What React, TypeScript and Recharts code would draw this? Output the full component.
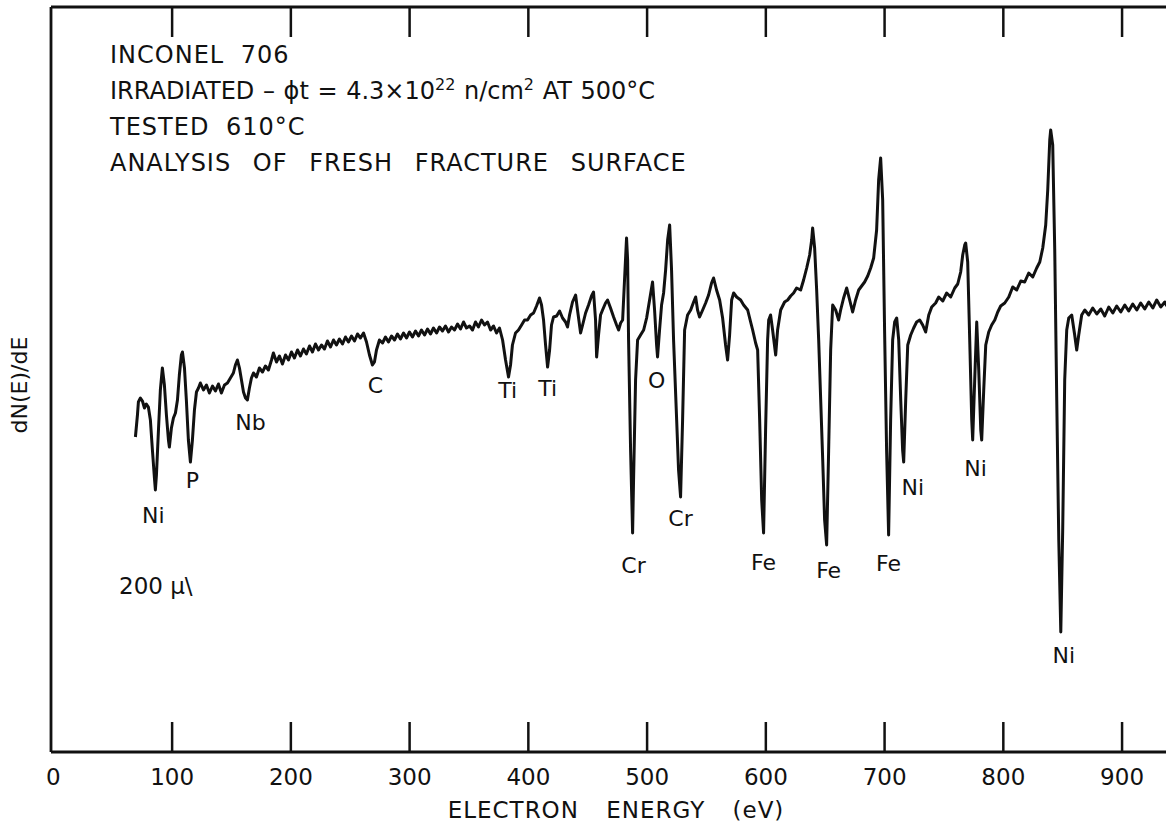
import React from "react";
import { LineChart, Line, XAxis, YAxis, ReferenceDot, Label } from "recharts";

// electron energy (eV) and dN(E)/dE signal (arbitrary units)
const energyEv = [
  69.1, 70.8, 71.6, 73.3, 75.0, 76.7, 78.3, 80.0, 81.7, 83.4, 85.1, 85.9, 86.8, 88.5, 90.1, 91.8, 93.5, 95.2,
  96.9, 97.7, 99.4, 101.1, 102.8, 104.5, 106.1, 107.8, 108.7, 110.4, 112.0, 113.7, 115.4, 117.1, 118.8, 120.5,
  122.2, 123.8,
  126.4, 128.9, 131.4, 134.0, 136.5, 139.0, 141.5, 144.1, 146.6, 149.1, 151.6, 153.3, 155.0, 156.7, 158.4,
  160.1, 161.8, 163.4, 165.1, 166.8, 168.5, 171.0, 173.5, 176.1, 178.6, 181.1, 183.7, 185.3, 187.9, 190.4,
  192.9, 195.5, 198.0, 200.5, 203.0, 205.6, 208.1, 210.6, 213.1, 215.7, 218.2, 220.7, 223.3, 225.8, 228.3,
  230.8, 233.4, 235.9, 238.4, 240.9, 243.5, 246.0, 248.5, 251.1, 253.6, 256.1, 258.6, 261.2, 263.7, 266.2,
  268.7, 270.4, 272.1, 274.6, 277.2,
  279.7, 282.2, 284.8, 287.3, 289.8, 292.3, 294.9, 297.4, 299.9, 302.4, 305.0, 307.5, 310.0, 312.6, 315.1,
  317.6, 320.1, 322.7, 325.2, 327.7, 330.2, 332.8, 335.3, 337.8, 340.4, 342.9, 345.4, 347.9, 350.5, 353.0,
  355.5, 358.0, 360.6, 363.1, 365.6, 368.2, 370.7, 373.2, 375.7, 378.3, 380.8, 383.3, 385.0, 386.6, 389.2,
  391.7, 394.3, 396.8, 399.3, 401.9, 404.4, 406.9, 409.4, 411.1, 412.8, 414.5, 416.2, 417.9, 419.5, 421.2,
  423.8, 426.3, 428.8, 431.3, 433.0, 434.7, 437.2, 439.8, 441.4, 444.0, 445.7, 448.2, 450.7, 453.2, 454.9,
  456.6, 457.5, 459.1, 460.8, 462.5, 465.0, 466.7, 469.2, 471.8, 474.3, 476.0, 477.7, 479.4, 481.0, 482.7,
  483.6, 484.4, 486.1, 487.8, 488.6, 490.3, 492.0, 494.5, 497.1, 499.6, 502.1, 504.6, 506.3, 508.0, 508.8,
  510.5, 512.2, 513.9, 515.6, 517.3, 519.0, 520.6, 522.3, 524.9, 526.5, 528.2, 529.9, 531.6, 534.1, 536.7,
  539.2, 540.9, 542.5, 544.2, 546.8, 549.3, 551.8, 554.3, 556.0, 558.5, 561.1, 563.6, 566.1, 567.8, 569.5,
  571.2, 572.9, 575.4, 578.8, 581.3, 584.7, 587.2, 588.9, 591.4, 593.1, 594.8, 596.5, 598.1, 599.8, 601.5,
  602.4, 604.0, 605.7, 608.3, 609.9, 612.5, 615.8, 618.4, 620.9, 623.4, 625.9, 629.3, 631.8, 634.4, 636.9,
  638.6, 639.4, 641.1, 642.8, 644.5, 646.2, 647.9, 649.5, 651.2, 652.9, 654.6, 656.3, 658.8, 661.3, 663.0,
  665.5, 668.1, 670.6, 673.1, 675.6, 678.2, 680.7, 683.2, 685.8, 688.3, 690.8, 693.3, 695.0, 696.7, 698.4,
  700.0, 701.7, 703.4, 705.1, 706.8, 708.5, 710.2, 711.9, 713.6, 715.2, 716.1, 717.8, 719.5, 722.0, 724.5,
  727.0, 729.6, 732.1, 734.6, 737.2, 739.7, 743.0, 745.6, 749.0, 752.3, 755.7, 759.1, 761.6, 764.1, 765.8,
  767.5, 768.3, 770.0, 771.7, 773.4, 774.2, 775.9, 777.6, 779.3, 781.0, 781.8, 783.5, 785.2, 787.7, 790.2,
  792.8, 795.3, 797.8, 801.2, 804.6, 807.9, 811.3, 814.7, 818.0, 821.4, 824.8, 828.1, 830.7, 833.2, 835.7,
  837.4, 839.1, 839.9, 841.6, 843.3, 845.0, 846.7, 848.4, 850.0, 851.7, 853.4, 855.1, 857.6, 860.1, 861.8,
  863.5, 866.0, 868.6, 871.9, 875.3, 878.7, 882.1, 885.4, 888.8, 892.2, 895.5, 898.9, 902.3, 905.6, 909.0,
  912.4, 915.7, 919.1, 922.5, 925.9, 929.2, 932.6, 936.0, 937.7,
];

const dNdE = [
  315, 337, 350, 354, 351, 344, 348, 345, 332, 302, 274, 262, 277, 322, 362, 384, 367, 337,
  312, 305, 324, 334, 339, 352, 377, 397, 400, 384, 352, 312, 290, 312, 342, 360,
  364, 369,
  362, 367, 359, 366, 361, 368, 359, 367, 369, 374, 379, 387, 392, 384, 372,
  360, 354, 352, 364, 374, 379, 375, 384, 380, 386, 382, 392, 399, 390, 396,
  388, 397, 392, 400, 394, 402, 396, 403, 398, 406, 400, 408, 402, 407, 403,
  411, 405, 412, 407, 413, 408, 415, 410, 416, 411, 418, 414, 419, 410, 397,
  387, 390, 402, 412, 409,
  415, 410, 416, 412, 418, 413, 419, 414, 420, 415, 421, 416, 422, 417, 423,
  418, 424, 419, 425, 421, 426, 420, 425, 422, 428, 423, 430, 424, 426, 422,
  430, 425, 432, 427, 430, 422, 426, 419, 424, 412, 392, 375, 387, 407, 419,
  422, 427, 432, 432, 437, 439, 446, 454, 447, 432, 407, 385, 402, 427, 435,
  436, 441, 434, 430, 425, 437, 450, 457, 442, 419, 427, 439, 447, 456, 460,
  432, 395, 417, 437, 442, 449, 452, 444, 435, 427, 422, 429, 432, 472, 514,
  492, 412, 302, 219, 272, 372, 412, 417, 422, 434, 452, 470, 442, 407, 395,
  422, 447, 459, 482, 512, 527, 482, 412, 332, 282, 255, 332, 422, 437, 442,
  450, 455, 442, 435, 442, 449, 457, 469, 474, 462, 452, 434, 407, 392, 417,
  452, 459, 455, 452, 447, 442, 430, 422, 409, 402, 332, 252, 219, 322, 412,
  432, 437, 422, 397, 422, 442, 450, 452, 456, 459, 464, 462, 472, 484, 497,
  512, 524, 504, 462, 412, 352, 292, 232, 207, 302, 402, 447, 442, 432, 442,
  454, 464, 452, 440, 452, 462, 466, 470, 476, 484, 494, 522, 572, 594, 552,
  422, 302, 217, 332, 412, 430, 434, 412, 352, 302, 290, 352, 407, 417, 424,
  430, 432, 427, 420, 437, 445, 449, 455, 451, 459, 455, 464, 468, 480, 497,
  507, 509, 490, 412, 332, 312, 372, 430, 382, 322, 312, 362, 407, 420, 427,
  432, 440, 446, 449, 455, 465, 462, 471, 470, 479, 475, 484, 490, 504, 527,
  562, 612, 622, 607, 502, 352, 212, 120, 222, 372, 422, 434, 437, 417, 402,
  417, 437, 442, 437, 444, 438, 443, 436, 445, 439, 446, 440, 447, 441, 448,
  442, 449, 443, 450, 444, 452, 445, 450, 446,
];

const spectrum = energyEv.map((e, i) => ({ e, v: dNdE[i] }));

// element labels beside the Auger features
const peakNames = ["Ni", "P", "Nb", "C", "Ti", "Ti", "O", "Cr", "Cr", "Fe", "Fe", "Fe", "Ni", "Ni", "Ni"];
const peakNameEv = [84.2, 117.1, 166.0, 271.3, 382.5, 416.2, 508.0, 488.6, 528.2, 598.1, 652.9, 703.4, 723.7, 776.7, 850.9];
const peakNameLevel = [237, 272, 330, 367, 362, 364, 372, 187, 234, 190, 182, 189, 265, 284, 97];

const bottomTicks = [0, 100, 200, 300, 400, 500, 600, 700, 800, 900];
const topTicks = [100, 200, 300, 400, 500, 600, 700, 800, 900];

const FONT = "'DejaVu Sans', sans-serif";
const INK = "#111";

const BottomTick = (props: any) => {
  const { x, y, payload } = props;
  return (
    <g>
      {payload.value > 0 && <line x1={x} x2={x} y1={y} y2={y - 30} stroke={INK} strokeWidth={2.5} />}
      <text x={x} y={y + 33} textAnchor="middle" fontFamily={FONT} fontSize={23} fill={INK}>
        {payload.value}
      </text>
    </g>
  );
};

const TopTick = (props: any) => {
  const { x, y } = props;
  return <line x1={x} x2={x} y1={y} y2={y + 30} stroke={INK} strokeWidth={2.5} />;
};

export default function App() {
  const headerStyle: React.CSSProperties = {
    position: "absolute",
    left: 110,
    top: 37,
    fontFamily: FONT,
    fontSize: 24,
    lineHeight: "36px",
    letterSpacing: 1,
    color: INK,
    whiteSpace: "nowrap",
  };
  const sup: React.CSSProperties = { fontSize: 16, lineHeight: 0 };
  return (
    <div style={{ position: "absolute", left: 0, top: 0, width: 1166, height: 832, background: "#fff", overflow: "hidden" }}>
      <LineChart width={1166} height={832} data={spectrum} margin={{ top: 6, right: 0, left: 0, bottom: 0 }}>
        <XAxis
          dataKey="e"
          type="number"
          domain={[-2, 937]}
          allowDataOverflow
          ticks={bottomTicks}
          interval={0}
          height={80}
          tickSize={0}
          tickMargin={0}
          tickLine={false}
          tick={<BottomTick />}
          axisLine={{ stroke: INK, strokeWidth: 2.8 }}
        />
        <XAxis
          xAxisId="top"
          orientation="top"
          dataKey="e"
          type="number"
          domain={[-2, 937]}
          allowDataOverflow
          ticks={topTicks}
          interval={0}
          height={1}
          tickSize={0}
          tickMargin={0}
          tickLine={false}
          tick={<TopTick />}
          axisLine={{ stroke: INK, strokeWidth: 2.8 }}
        />
        <YAxis
          type="number"
          domain={[0, 745]}
          allowDataOverflow
          width={51}
          tick={false}
          tickLine={false}
          axisLine={{ stroke: INK, strokeWidth: 2.8 }}
        />
        <Line
          type="linear"
          dataKey="v"
          stroke={INK}
          strokeWidth={3}
          strokeLinejoin="round"
          dot={false}
          isAnimationActive={false}
        />
        {peakNames.map((name, i) => (
          <ReferenceDot key={i} x={peakNameEv[i]} y={peakNameLevel[i]} r={0} fill="none" stroke="none">
            <Label value={name} position="center" fill={INK} fontSize={22} fontFamily={FONT} />
          </ReferenceDot>
        ))}
      </LineChart>

      <div style={headerStyle}>
        <div style={{ wordSpacing: 8 }}>INCONEL 706</div>
        <div style={{ letterSpacing: 0, wordSpacing: 1 }}>
          IRRADIATED – ϕt = 4.3×10<sup style={sup}>22</sup> n/cm<sup style={sup}>2</sup> AT 500°C
        </div>
        <div style={{ wordSpacing: 8 }}>TESTED 610°C</div>
        <div style={{ wordSpacing: 13 }}>ANALYSIS OF FRESH FRACTURE SURFACE</div>
      </div>

      <div
        style={{
          position: "absolute",
          left: 119,
          top: 573,
          fontFamily: FONT,
          fontSize: 23,
          color: INK,
          whiteSpace: "nowrap",
        }}
      >
        200 µ\
      </div>

      <div
        style={{
          position: "absolute",
          left: 616,
          top: 797,
          transform: "translateX(-50%)",
          fontFamily: FONT,
          fontSize: 23,
          letterSpacing: 1,
          wordSpacing: 19,
          color: INK,
          whiteSpace: "nowrap",
        }}
      >
        ELECTRON ENERGY (eV)
      </div>

      <div
        style={{
          position: "absolute",
          left: 19,
          top: 385,
          transform: "translate(-50%, -50%) rotate(-90deg)",
          fontFamily: FONT,
          fontSize: 22,
          color: INK,
          whiteSpace: "nowrap",
        }}
      >
        dN(E)/dE
      </div>
    </div>
  );
}
